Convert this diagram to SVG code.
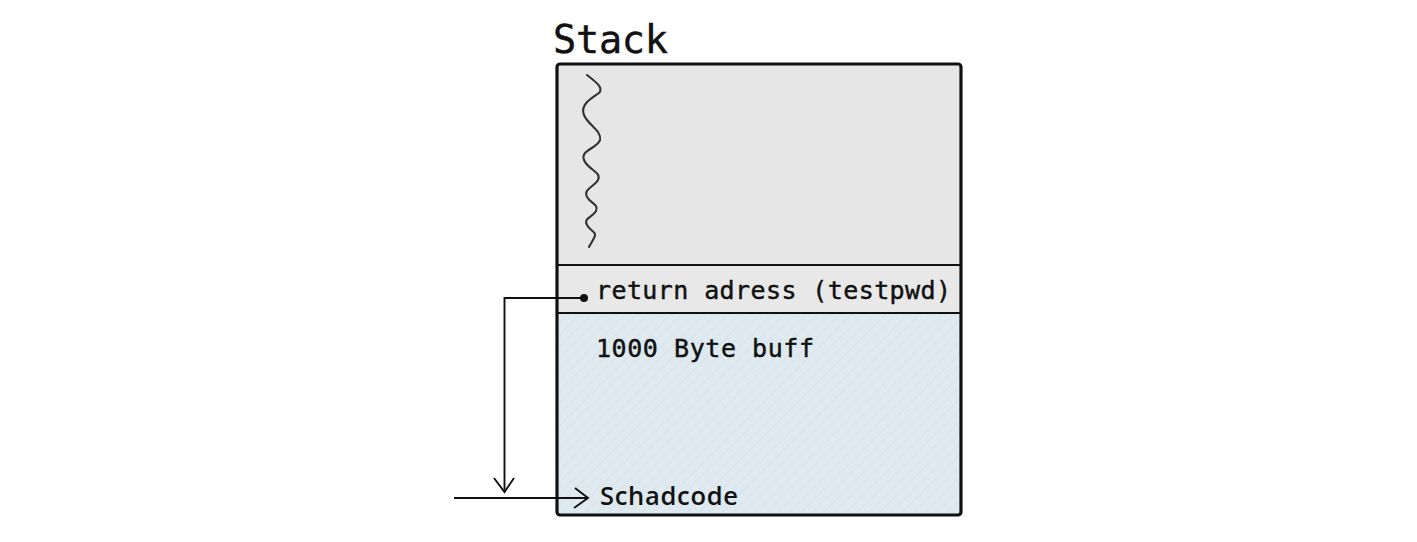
<svg xmlns="http://www.w3.org/2000/svg" width="1417" height="542" viewBox="0 0 1417 542">
<defs>
<style>
.mono{font-family:"DejaVu Sans Mono","Liberation Mono",monospace;fill:#111;stroke:#111;stroke-width:0.45;}
.sans{font-family:"Open Sans","Liberation Sans",sans-serif;fill:#111;}
.line{fill:none;stroke:#111;stroke-width:1.9;}
</style>
<pattern id="hatch" patternUnits="userSpaceOnUse" width="8" height="8" patternTransform="rotate(45)">
<rect width="8" height="8" fill="#dfe9f0"/>
<line x1="0" y1="0" x2="0" y2="8" stroke="#c7d5df" stroke-width="1" stroke-dasharray="1.5 1"/>
</pattern>
</defs>
<rect width="1417" height="542" fill="#fff"/>
<g id="title"><text class="mono" x="553" y="53" font-size="38.5" textLength="115">Stack</text></g>
<g id="stack">
<rect x="557" y="64" width="404" height="201" fill="#e6e6e6"/>
<rect x="557" y="265" width="404" height="48" fill="#e8e8e8"/>
<rect x="557" y="313" width="404" height="202" fill="url(#hatch)"/>
<rect x="557" y="64" width="404" height="451" rx="3" fill="none" stroke="#111" stroke-width="3.2"/>
<line x1="557" y1="265" x2="961" y2="265" stroke="#111" stroke-width="2"/>
<line x1="557" y1="313" x2="961" y2="313" stroke="#111" stroke-width="2"/>
</g>
<g id="wave">
<path d="M587,75 C596,82 604,88 599,93 C590,99 580,105 584,115 C588,125 602,131 600,140 C598,148 580,150 584,160 C588,170 602,172 598,180 C594,187 583,189 587,197 C591,204 599,204 596,211 C593,217 583,218 587,225 C590,231 598,232 594,238 C592,242 590,245 589,247" fill="none" stroke="#333" stroke-width="2.1" stroke-linecap="round"/>
</g>
<g id="return">
<text class="mono" x="596" y="299" font-size="25" textLength="355">return adress (testpwd)</text>
</g>
<g id="buff">
<text class="mono" x="596" y="357" font-size="25" textLength="218">1000 Byte buff</text>
</g>
<g id="schadcode">
<text class="sans" x="600" y="505" font-size="25.5" textLength="138" font-weight="600">Schadcode</text>
</g>
<g id="connectors">
<circle cx="584" cy="298" r="4" fill="#111"/>
<polyline class="line" points="584,298 504.5,298 504.5,492"/>
<polyline class="line" points="494,478 504.5,492 514,478"/>
<line class="line" x1="454" y1="498" x2="588" y2="498"/>
<polyline class="line" points="575,488 588,498 574,508"/>
</g>
</svg>
